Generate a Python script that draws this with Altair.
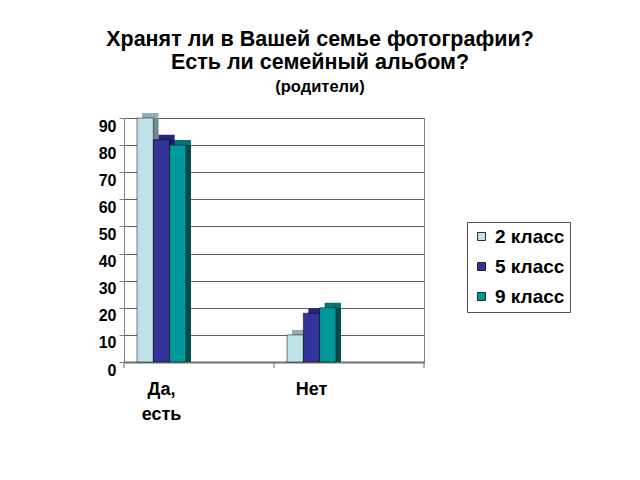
import altair as alt
import pandas as pd

categories = ["Да, есть", "Нет"]
slots = ["Да, есть", "_1", "Нет", "_2"]
series = ["2 класс", "5 класс", "9 класс"]
values_2 = [90, 10]
values_5 = [82, 18]
values_9 = [80, 20]
y_ticks = [0, 10, 20, 30, 40, 50, 60, 70, 80, 90]

front_colors = ["#c0e3e9", "#333399", "#009999"]
top_colors = ["#93aeb3", "#25257a", "#007575"]
side_colors = ["#6f8a8f", "#1a1a5c", "#004d4d"]

rows = []
for s, vals in zip(series, [values_2, values_5, values_9]):
    for c, v in zip(categories, vals):
        rows.append({"cat": c, "series": s, "value": v})
df = pd.DataFrame(rows)

W, H = 300, 244
D = 5
FONT = "Liberation Sans"


def xscale(shift):
    return alt.Scale(domain=slots, range=[shift, W + shift], paddingInner=0, paddingOuter=0)


off_scale = alt.Scale(domain=series, paddingInner=0, paddingOuter=0.8)
yscale = alt.Scale(domain=[0, 90], nice=False)

base = alt.Chart(df)


def bar_layer(shift, yoff, colors, front=False):
    if front:
        mark = dict(yOffset=yoff, stroke="#000000", strokeWidth=0.5)
        xenc = alt.X("cat:N", scale=xscale(shift), axis=alt.Axis(
            title=None, ticks=False, labelAngle=0, domainColor="#707070", domainWidth=2,
            labelFont=FONT, labelFontSize=18, labelFontWeight="bold", labelColor="#000000",
            labelPadding=18, labelLineHeight=25,
            labelExpr="datum.label == 'Да, есть' ? ['Да,', 'есть'] : (indexof(datum.label, '_') == 0 ? '' : datum.label)"))
        yenc = alt.Y("value:Q", scale=yscale, axis=alt.Axis(
            title=None, values=y_ticks, grid=True, gridColor="#606060", gridWidth=1,
            domainColor="#808080", tickColor="#808080", tickSize=5,
            labelFont=FONT, labelFontSize=16, labelFontWeight="bold", labelColor="#000000",
            labelPadding=3, labelOffset=8))
        color = alt.Color("series:N", scale=alt.Scale(domain=series, range=colors), legend=alt.Legend(
            title=None, orient="none", legendX=343, legendY=104, direction="vertical",
            symbolType="square", symbolSize=64, symbolStrokeColor="#000000", symbolStrokeWidth=0.8,
            labelFont=FONT, labelFontSize=19, labelFontWeight="bold", labelColor="#000000",
            labelOffset=4, rowPadding=10, padding=5, strokeColor="#555555", fillColor="#ffffff"))
    else:
        mark = dict(yOffset=yoff)
        xenc = alt.X("cat:N", scale=xscale(shift), axis=None)
        yenc = alt.Y("value:Q", scale=yscale, axis=None)
        color = alt.Color("series:N", scale=alt.Scale(domain=series, range=colors), legend=None)
    return base.mark_bar(**mark).encode(
        x=xenc,
        xOffset=alt.XOffset("series:N", scale=off_scale),
        y=yenc,
        color=color,
    )


top_layer = bar_layer(D, -D, top_colors)
side_layer = bar_layer(D, 0, side_colors)
front_layer = bar_layer(0, 0, front_colors, front=True)

tick_df = pd.DataFrame({"cat": ["Да, есть", "Нет"]})
tick_end_df = pd.DataFrame({"cat": ["_2"]})
ticks0 = alt.Chart(tick_df).mark_rule(color="#707070").encode(
    x=alt.X("cat:N", bandPosition=0, scale=xscale(0), axis=None),
    y=alt.value(H), y2=alt.value(H + 6))
ticks1 = alt.Chart(tick_end_df).mark_rule(color="#707070").encode(
    x=alt.X("cat:N", bandPosition=1, scale=xscale(0), axis=None),
    y=alt.value(H), y2=alt.value(H + 6))

chart = alt.layer(top_layer, side_layer, front_layer, ticks0, ticks1).resolve_scale(
    x="independent", xOffset="independent", color="independent", y="independent"
).properties(
    width=W, height=H,
    autosize=alt.AutoSizeParams(type="none"),
    padding={"left": 116, "top": 110, "right": 208, "bottom": 110},
    title=alt.TitleParams(
        text=["Хранят ли в Вашей семье фотографии?", "Есть ли семейный альбом?"],
        subtitle="(родители)",
        font=FONT, fontSize=21.5, fontWeight="bold", color="#000000", lineHeight=23,
        subtitleFont=FONT, subtitleFontSize=16.5, subtitleFontWeight="bold", subtitleColor="#000000",
        subtitlePadding=5, anchor="middle", dx=46, offset=18),
).configure_view(stroke="#808080", strokeWidth=1)

chart.save("out.html", embed_options={"renderer": "svg", "actions": False})
